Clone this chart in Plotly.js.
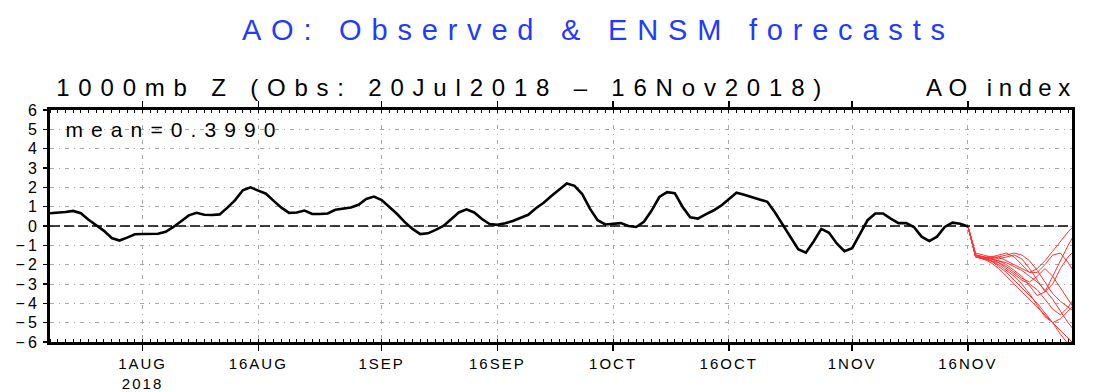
<!DOCTYPE html>
<html><head><meta charset="utf-8">
<script src="https://cdn.plot.ly/plotly-3.0.1.min.js"></script>
<style>
html,body{margin:0;padding:0;background:#fff;}
#chart{width:1106px;height:392px;}
g.annotation[data-index="0"] text{letter-spacing:9.8px;}
g.annotation[data-index="1"] text{letter-spacing:8.8px;}
g.annotation[data-index="2"] text{letter-spacing:6.5px;}
g.annotation[data-index="3"] text{letter-spacing:8.1px;}
.ytick text{letter-spacing:3px;}
.xtick text{letter-spacing:2px;}
</style></head>
<body><div id="chart"></div>
<script>
// ---- data ----
const obsStart = '2018-07-20';
const obsValues = [
 0.66,0.68,0.72,0.78,0.66,0.32,0.05,-0.25,-0.62,-0.75,
 -0.60,-0.43,-0.41,-0.41,-0.40,-0.30,-0.05,0.25,0.55,0.68,
 0.58,0.57,0.60,0.95,1.34,1.85,2.00,1.83,1.67,1.30,
 0.95,0.68,0.70,0.80,0.62,0.62,0.65,0.84,0.90,0.96,
 1.10,1.40,1.52,1.34,0.98,0.62,0.20,-0.15,-0.42,-0.38,
 -0.20,0.00,0.35,0.70,0.86,0.70,0.36,0.10,0.06,0.14,
 0.26,0.40,0.58,0.92,1.20,1.55,1.90,2.20,2.08,1.65,
 0.90,0.30,0.08,0.10,0.15,0.00,-0.05,0.22,0.80,1.50,
 1.75,1.70,1.00,0.45,0.38,0.60,0.80,1.05,1.40,1.72,
 1.62,1.50,1.40,1.25,0.70,0.05,-0.60,-1.20,-1.38,-0.80,
 -0.15,-0.35,-0.90,-1.30,-1.15,-0.45,0.30,0.65,0.65,0.38,
 0.15,0.15,-0.05,-0.55,-0.78,-0.55,-0.05,0.17,0.12,-0.03
];
const fcStart = '2018-11-16';
const fc1  = [0,-1.5,-1.7,-1.9,-2.2,-2.6,-3.0,-3.4,-3.8,-4.2,-4.6,-5.0,-5.4,-5.8,-6.2];
const fc2  = [0,-1.5,-1.6,-1.8,-2.1,-2.4,-2.8,-3.2,-3.6,-4.0,-4.5,-5.0,-5.6,-6.1,-6.5];
const fc3  = [0,-1.6,-1.7,-1.8,-2.0,-2.3,-2.6,-3.0,-3.5,-4.1,-4.7,-5.0,-4.8,-4.4,-4.0];
const fc4  = [0,-1.5,-1.6,-1.7,-1.8,-2.0,-2.3,-2.6,-3.1,-3.6,-3.4,-2.6,-1.8,-1.0,-0.3];
const fc5  = [0,-1.4,-1.5,-1.6,-1.5,-1.4,-1.6,-2.0,-2.4,-2.2,-1.8,-1.3,-0.8,-0.3,0.1];
const fc6  = [0,-1.6,-1.7,-1.7,-1.8,-1.9,-2.1,-2.3,-2.6,-2.9,-3.3,-3.8,-4.4,-5.0,-5.5];
const fc7  = [0,-1.5,-1.6,-1.6,-1.7,-1.6,-1.5,-1.7,-2.2,-2.8,-3.4,-3.0,-2.2,-1.6,-1.2];
const fc8  = [0,-1.6,-1.7,-1.6,-1.6,-1.8,-2.0,-2.2,-2.4,-2.4,-2.0,-1.5,-1.4,-1.9,-2.5];
const fc9  = [0,-1.5,-1.6,-1.7,-1.9,-2.2,-2.5,-2.8,-3.0,-3.3,-3.8,-4.3,-4.6,-4.2,-3.6];
const fc10 = [0,-1.5,-1.7,-1.8,-1.9,-2.1,-2.4,-2.7,-2.9,-2.6,-2.2,-2.6,-3.2,-3.8,-4.4];
const fc11 = [0,-1.6,-1.6,-1.7,-1.6,-1.5,-1.4,-1.5,-1.8,-2.3,-2.9,-3.5,-3.9,-4.2,-4.5];
const forecasts = [fc1,fc2,fc3,fc4,fc5,fc6,fc7,fc8,fc9,fc10,fc11];
const tickDates  = ['2018-08-01','2018-08-16','2018-09-01','2018-09-16','2018-10-01','2018-10-16','2018-11-01','2018-11-16'];
const tickLabels = ['1AUG<br>2018','16AUG','1SEP','16SEP','1OCT','16OCT','1NOV','16NOV'];
const yTicks = [-6,-5,-4,-3,-2,-1,0,1,2,3,4,5,6];
const titleText = 'AO: Observed &amp; ENSM forecasts';
const subtitleText = '1000mb Z (Obs: 20Jul2018 – 16Nov2018)';
const indexText = 'AO index';
const meanText = 'mean=0.3990';

function dailyDates(start, n){
  const d0 = new Date(start + 'T00:00:00Z');
  const out = [];
  for (let i = 0; i < n; i++){
    out.push(new Date(d0.getTime() + i*86400000).toISOString().slice(0,10));
  }
  return out;
}

const traces = [];
forecasts.forEach(f => {
  traces.push({x: dailyDates(fcStart, f.length), y: f, type:'scatter', mode:'lines',
    line:{color:'#ff3333', width:1}, hoverinfo:'skip', showlegend:false});
});
traces.push({x: dailyDates(obsStart, obsValues.length), y: obsValues, type:'scatter', mode:'lines',
  line:{color:'#000', width:2.6}, showlegend:false});

const font = 'Liberation Sans, Arial, sans-serif';
const layout = {
  width:1106, height:392,
  margin:{l:50, r:34, t:110, b:50},
  paper_bgcolor:'#fff', plot_bgcolor:'#fff',
  showlegend:false,
  font:{family:font, color:'#000'},
  xaxis:{type:'date', range:['2018-07-20','2018-11-29 12:00'],
    tickmode:'array', tickvals:tickDates, ticktext:tickLabels,
    ticks:'outside', ticklen:6, tickwidth:1.5, tickcolor:'#000',
    tickfont:{size:15, family:font},
    showline:true, linewidth:3, linecolor:'#000', mirror:'allticks',
    showgrid:true, gridcolor:'#a8a8a8', gridwidth:1, griddash:'4px,5px,1px,5px',
    zeroline:false, fixedrange:true,
    minor:{dtick:86400000, ticks:'inside', ticklen:3, tickcolor:'#000', tickwidth:1, showgrid:false}
  },
  yaxis:{range:[-6,6], tickmode:'array', tickvals:yTicks,
    ticks:'outside', ticklen:4, tickwidth:1.5, tickcolor:'#000',
    tickfont:{size:16, family:font},
    showline:true, linewidth:3, linecolor:'#000', mirror:true,
    showgrid:true, gridcolor:'#a8a8a8', gridwidth:1, griddash:'4px,5px,1px,5px',
    zeroline:false, fixedrange:true
  },
  shapes:[{type:'line', xref:'paper', x0:0, x1:1, yref:'y', y0:0, y1:0,
    line:{color:'#000', width:1.5, dash:'10px,4px'}, layer:'above'}],
  annotations:[
    {text:titleText, xref:'paper', yref:'paper', x:0.537, y:1.345,
      xanchor:'center', yanchor:'middle', showarrow:false, font:{size:29, color:'rgb(30,60,255)', family:font}},
    {text:subtitleText, xref:'paper', yref:'paper', x:0.385, y:1.095,
      xanchor:'center', yanchor:'middle', showarrow:false, font:{size:24, color:'#000', family:font}},
    {text:indexText, xref:'paper', yref:'paper', x:0.931, y:1.095,
      xanchor:'center', yanchor:'middle', showarrow:false, font:{size:24, color:'#000', family:font}},
    {text:meanText, xref:'paper', yref:'paper', x:0.122, y:0.914,
      xanchor:'center', yanchor:'middle', showarrow:false, font:{size:21, color:'#000', family:font}}
  ]
};
Plotly.newPlot('chart', traces, layout, {displayModeBar:false, staticPlot:true});
</script>
</body></html>
